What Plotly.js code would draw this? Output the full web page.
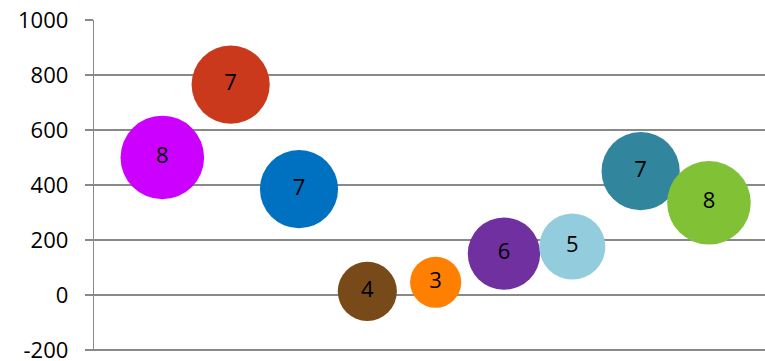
<!DOCTYPE html>
<html>
<head>
<meta charset="utf-8">
<script src="https://cdn.plot.ly/plotly-3.0.1.min.js"></script>
<style>html,body{margin:0;padding:0;background:#fff;}#chart{width:765px;height:361px;}</style>
</head>
<body>
<div id="chart"></div>
<script>
const xValues = [1, 2, 3, 4, 5, 6, 7, 8, 9];
const yValues = [500, 765, 385, 13, 46, 150, 176, 450, 335];
const bubbleSizes = [8, 7, 7, 4, 3, 6, 5, 7, 8];
const bubbleColors = ['#CC00FF', '#CB391D', '#0070C0', '#794A19', '#FF8000', '#7030A0', '#93CDDD', '#31859C', '#80C136'];
const yTicks = [-200, 0, 200, 400, 600, 800, 1000];

const FONT = '"Open Sans", Lato, sans-serif';

const trace = {
  type: 'scatter',
  mode: 'markers+text',
  x: xValues,
  y: yValues,
  text: bubbleSizes.map(String),
  textposition: 'middle center',
  textfont: {family: FONT, size: 22, color: '#000'},
  marker: {
    size: bubbleSizes,
    sizemode: 'area',
    sizeref: 0.00229,
    color: bubbleColors,
    opacity: 1,
    line: {width: 0}
  },
  hoverinfo: 'none',
  cliponaxis: false
};

const layout = {
  width: 765,
  height: 361,
  margin: {l: 94, r: 0, t: 19.7, b: 9.6, pad: 0},
  paper_bgcolor: '#fff',
  plot_bgcolor: '#fff',
  showlegend: false,
  font: {family: FONT, size: 22, color: '#000'},
  xaxis: {
    range: [0, 9.82],
    showgrid: false,
    zeroline: false,
    showline: false,
    showticklabels: false,
    ticks: ''
  },
  yaxis: {
    range: [-204, 1000],
    tickvals: yTicks,
    ticktext: yTicks.map(String),
    showgrid: true,
    gridcolor: '#898989',
    gridwidth: 1.3,
    zeroline: false,
    showline: true,
    linecolor: '#898989',
    linewidth: 1.3,
    ticks: 'outside',
    ticklen: 8,
    tickcolor: '#898989',
    tickwidth: 1.3,
    ticklabelstandoff: 12,
    ticklabeloverflow: 'allow',
    tickfont: {family: FONT, size: 22, color: '#000'}
  }
};

Plotly.newPlot('chart', [trace], layout, {displayModeBar: false, staticPlot: true});
</script>
</body>
</html>
